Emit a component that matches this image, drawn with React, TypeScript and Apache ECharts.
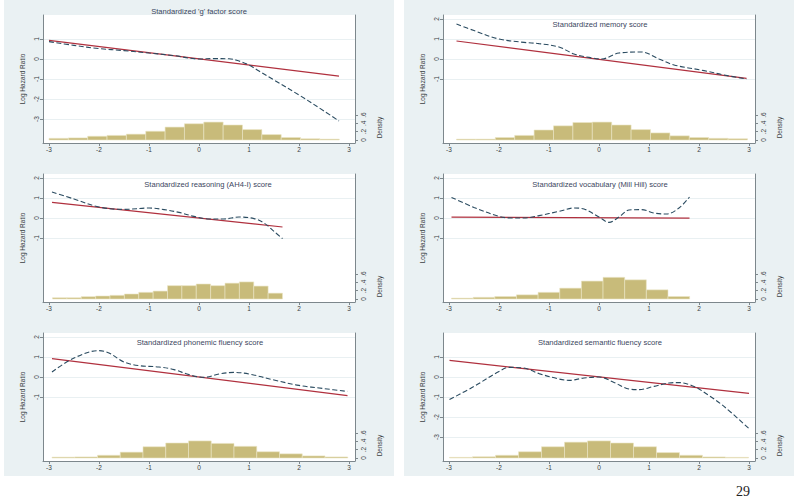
import React, { useEffect, useRef } from 'react';
import * as echarts from 'echarts';

// ---------- shared ticks ----------
const xTickValues = [-3, -2, -1, 0, 1, 2, 3];
const densityTickValues = [0, 0.2, 0.4, 0.6];

// ---------- Panel 1: 'g' factor ----------
const gTitle = "Standardized 'g' factor score";
const gLhrTicks = [-3, -2, -1, 0, 1];
const gHistStart = -3;
const gHistWidth = 0.387;
const gHist = [0.04, 0.05, 0.09, 0.11, 0.14, 0.21, 0.31, 0.39, 0.43, 0.36, 0.25, 0.13, 0.06, 0.03, 0.02];
const gLinear = [[-3, 0.93], [2.8, -0.86]];
const gSpline = [[-3, 0.87], [-2.5, 0.68], [-2, 0.52], [-1.5, 0.42], [-1, 0.3], [-0.5, 0.17], [0, 0.0], [0.3, 0.02], [0.6, 0.01], [0.8, -0.1], [1.0, -0.3], [1.2, -0.6], [1.5, -1.05], [2, -1.8], [2.5, -2.6], [2.8, -3.1]];

// ---------- Panel 2: memory ----------
const memTitle = 'Standardized memory score';
const memLhrTicks = [-1, 0, 1, 2];
const memHistStart = -2.85;
const memHistWidth = 0.388;
const memHist = [0.02, 0.02, 0.06, 0.11, 0.24, 0.34, 0.42, 0.43, 0.36, 0.25, 0.17, 0.1, 0.06, 0.04, 0.03];
const memLinear = [[-2.85, 0.9], [2.95, -0.97]];
const memSpline = [[-2.85, 1.75], [-2.5, 1.42], [-2, 1.0], [-1.5, 0.83], [-1.2, 0.77], [-0.8, 0.6], [-0.5, 0.25], [-0.2, 0.08], [0.05, 0.0], [0.4, 0.3], [0.85, 0.35], [1.2, 0.0], [1.5, -0.3], [2.1, -0.58], [2.5, -0.8], [2.95, -1.0]];

// ---------- Panel 3: reasoning ----------
const reaTitle = 'Standardized reasoning (AH4-I) score';
const reaLhrTicks = [-1, 0, 1, 2];
const reaHistStart = -2.93;
const reaHistWidth = 0.2875;
const reaHist = [0.03, 0.03, 0.056, 0.072, 0.088, 0.12, 0.16, 0.19, 0.32, 0.32, 0.36, 0.32, 0.38, 0.41, 0.31, 0.14];
const reaLinear = [[-2.94, 0.78], [1.67, -0.45]];
const reaSpline = [[-2.94, 1.3], [-2.5, 0.95], [-2, 0.55], [-1.5, 0.43], [-1, 0.5], [-0.7, 0.42], [-0.4, 0.28], [-0.1, 0.08], [0.2, -0.05], [0.5, -0.05], [0.8, 0.05], [1.1, -0.03], [1.3, -0.25], [1.5, -0.67], [1.67, -1.03]];

// ---------- Panel 4: vocabulary ----------
const vocTitle = 'Standardized vocabulary (Mill Hill) score';
const vocLhrTicks = [-1, 0, 1, 2];
const vocHistStart = -2.95;
const vocHistWidth = 0.433;
const vocHist = [0.02, 0.04, 0.06, 0.1, 0.16, 0.26, 0.43, 0.52, 0.46, 0.22, 0.06];
const vocLinear = [[-2.95, 0.04], [1.81, -0.01]];
const vocSpline = [[-2.95, 1.03], [-2.5, 0.53], [-2, 0.08], [-1.75, 0.0], [-1.5, 0.0], [-1.2, 0.12], [-0.8, 0.33], [-0.5, 0.5], [-0.3, 0.45], [0, 0.05], [0.2, -0.22], [0.4, 0.05], [0.6, 0.4], [0.85, 0.42], [1.1, 0.25], [1.35, 0.2], [1.6, 0.5], [1.81, 1.05]];

// ---------- Panel 5: phonemic fluency ----------
const phoTitle = 'Standardized phonemic fluency score';
const phoLhrTicks = [-1, 0, 1, 2];
const phoHistStart = -2.94;
const phoHistWidth = 0.455;
const phoHist = [0.02, 0.025, 0.065, 0.14, 0.27, 0.36, 0.41, 0.35, 0.28, 0.15, 0.1, 0.05, 0.025];
const phoLinear = [[-2.94, 0.92], [2.97, -0.93]];
const phoSpline = [[-2.94, 0.25], [-2.5, 0.95], [-2, 1.32], [-1.8, 1.2], [-1.5, 0.75], [-1.2, 0.57], [-0.8, 0.5], [-0.5, 0.37], [-0.2, 0.12], [0.1, -0.02], [0.4, 0.15], [0.7, 0.23], [1.0, 0.15], [1.5, -0.15], [2, -0.42], [2.5, -0.58], [2.97, -0.72]];

// ---------- Panel 6: semantic fluency ----------
const semTitle = 'Standardized semantic fluency score';
const semLhrTicks = [-3, -2, -1, 0, 1];
const semHistStart = -2.99;
const semHistWidth = 0.46;
const semHist = [0.015, 0.03, 0.065, 0.15, 0.27, 0.38, 0.41, 0.36, 0.27, 0.13, 0.065, 0.025, 0.015];
const semLinear = [[-2.99, 0.83], [3.0, -0.82]];
const semSpline = [[-2.99, -1.13], [-2.5, -0.47], [-2, 0.28], [-1.8, 0.48], [-1.5, 0.45], [-1.2, 0.17], [-0.8, -0.1], [-0.6, -0.17], [-0.3, -0.05], [0, 0], [0.3, -0.27], [0.6, -0.6], [0.8, -0.63], [1.1, -0.47], [1.4, -0.3], [1.6, -0.28], [1.9, -0.47], [2.2, -0.93], [2.5, -1.47], [3.0, -2.58]];

const pageNumber = '29';

const panels = [
  { title: gTitle, ticks: gLhrTicks, hs: gHistStart, hw: gHistWidth, hist: gHist, lin: gLinear, spl: gSpline },
  { title: memTitle, ticks: memLhrTicks, hs: memHistStart, hw: memHistWidth, hist: memHist, lin: memLinear, spl: memSpline },
  { title: reaTitle, ticks: reaLhrTicks, hs: reaHistStart, hw: reaHistWidth, hist: reaHist, lin: reaLinear, spl: reaSpline },
  { title: vocTitle, ticks: vocLhrTicks, hs: vocHistStart, hw: vocHistWidth, hist: vocHist, lin: vocLinear, spl: vocSpline },
  { title: phoTitle, ticks: phoLhrTicks, hs: phoHistStart, hw: phoHistWidth, hist: phoHist, lin: phoLinear, spl: phoSpline },
  { title: semTitle, ticks: semLhrTicks, hs: semHistStart, hw: semHistWidth, hist: semHist, lin: semLinear, spl: semSpline },
];

// layout (pixels)
const colLeft = [43, 443];
const rowTop = [15, 174, 333];
const plotW = 312;
const plotH = 128;
const titlePos = [[199, 11], [600, 24], [208, 184], [600, 184], [200, 342], [600, 342]];

const FONT = '"Liberation Sans", Arial, sans-serif';
const axisColor = '#7d878c';
const labelColor = '#3a3f44';
const titleColor = '#3b4660';
const barColor = '#c8bb7a';
const redColor = '#b0303e';
const dashColor = '#2a4b60';
const panelBg = '#eaf1f3';

function buildOption() {
  const grid: any[] = [];
  const xAxis: any[] = [];
  const yAxis: any[] = [];
  const series: any[] = [];
  const graphic: any[] = [];

  graphic.push({ type: 'rect', z: -100, silent: true, shape: { x: 4, y: 0, width: 390, height: 476 }, style: { fill: panelBg } });
  graphic.push({ type: 'rect', z: -100, silent: true, shape: { x: 404, y: 0, width: 390, height: 476 }, style: { fill: panelBg } });

  panels.forEach((p, i) => {
    const col = i % 2;
    const row = Math.floor(i / 2);
    const left = colLeft[col];
    const top = rowTop[row];
    grid.push({ left, top, width: plotW, height: plotH, show: true, backgroundColor: '#ffffff', borderWidth: 0, z: 0 });
    xAxis.push({
      type: 'value', gridIndex: i, min: -3.12, max: 3.12,
      axisLine: { show: true, onZero: false, lineStyle: { color: axisColor, width: 1 } },
      axisTick: { show: true, length: 3, customValues: xTickValues, lineStyle: { color: axisColor } },
      axisLabel: { customValues: xTickValues, fontSize: 6.5, color: labelColor, margin: 3, fontFamily: FONT },
      splitLine: { show: false },
    });
    yAxis.push({
      type: 'value', gridIndex: i, position: 'left', min: -4.2, max: 2.2,
      name: 'Log Hazard Ratio', nameLocation: 'middle', nameGap: 17,
      nameTextStyle: { fontSize: 6.5, color: labelColor, fontFamily: FONT },
      axisLine: { show: true, onZero: false, lineStyle: { color: axisColor, width: 1 } },
      axisTick: { show: true, length: 3, customValues: p.ticks, lineStyle: { color: axisColor } },
      axisLabel: { customValues: p.ticks, rotate: 90, fontSize: 6.5, color: labelColor, margin: 3, fontFamily: FONT },
      splitLine: { show: true, lineStyle: { color: '#e9f0f2', width: 1 } },
    });
    yAxis.push({
      type: 'value', gridIndex: i, position: 'right', min: -0.072, max: 3.0,
      axisLine: { show: true, onZero: false, lineStyle: { color: axisColor, width: 1 } },
      axisTick: { show: true, length: 3, customValues: densityTickValues, lineStyle: { color: axisColor } },
      axisLabel: {
        customValues: densityTickValues, rotate: 90, fontSize: 6.5, color: labelColor, margin: 5, fontFamily: FONT,
        formatter: (v: number) => (Math.abs(v) < 1e-9 ? '0' : String(Math.round(v * 10) / 10).replace('0.', '.')),
      },
      splitLine: { show: false },
    });

    const bins = p.hist.map((h, k) => [p.hs + k * p.hw, p.hs + (k + 1) * p.hw, h]);
    series.push({
      type: 'custom', xAxisIndex: i, yAxisIndex: 2 * i + 1, data: bins,
      encode: { x: [0, 1], y: 2 }, silent: true,
      renderItem: (params: any, api: any) => {
        const a = api.coord([api.value(0), api.value(2)]);
        const b = api.coord([api.value(1), 0]);
        return {
          type: 'rect',
          shape: { x: a[0], y: a[1], width: b[0] - a[0], height: b[1] - a[1] },
          style: { fill: barColor, stroke: '#ebe5c6', lineWidth: 0.6 },
        };
      },
    });
    series.push({
      type: 'line', xAxisIndex: i, yAxisIndex: 2 * i, data: p.lin, symbol: 'none', silent: true,
      lineStyle: { color: redColor, width: 1.2 },
    });
    series.push({
      type: 'line', xAxisIndex: i, yAxisIndex: 2 * i, data: p.spl, symbol: 'none', smooth: 0.35, silent: true,
      lineStyle: { color: dashColor, width: 1.1, type: [5, 2.5] },
    });

    graphic.push({
      type: 'text', x: titlePos[i][0], y: titlePos[i][1], silent: true,
      style: { text: p.title, fontSize: 7.6, fill: titleColor, align: 'center', verticalAlign: 'middle', fontFamily: FONT },
    });
    graphic.push({
      type: 'text', x: left + plotW + 24, y: top + plotH - 15.5, rotation: Math.PI / 2, silent: true,
      style: { text: 'Density', fontSize: 6.5, fill: labelColor, align: 'center', verticalAlign: 'middle', fontFamily: FONT },
    });
  });

  graphic.push({
    type: 'text', x: 743, y: 491, silent: true,
    style: { text: pageNumber, fontSize: 14, fill: '#222', align: 'center', verticalAlign: 'middle', fontFamily: '"Liberation Serif", "Times New Roman", serif' },
  });

  return {
    animation: false,
    backgroundColor: '#ffffff',
    textStyle: { fontFamily: FONT },
    grid, xAxis, yAxis, series, graphic,
  };
}

export default function App() {
  const ref = useRef<HTMLDivElement>(null);
  useEffect(() => {
    if (!ref.current) return;
    const chart = echarts.init(ref.current, undefined, { renderer: 'svg' });
    chart.setOption(buildOption() as any);
    return () => chart.dispose();
  }, []);
  return <div ref={ref} style={{ position: 'absolute', left: 0, top: 0, width: 800, height: 498 }} />;
}
